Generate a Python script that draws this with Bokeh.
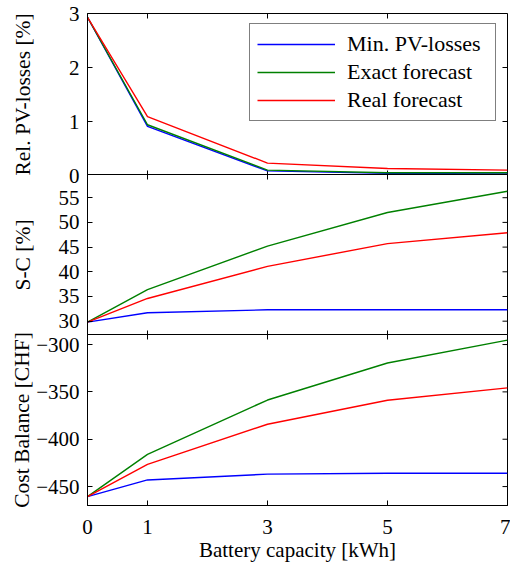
import math
from bokeh.plotting import figure
from bokeh.layouts import column
from bokeh.models import LinearAxis, Range1d, FixedTicker, Legend, LegendItem
from bokeh.embed import file_html
from bokeh.resources import INLINE

capacity = [0, 1, 3, 5, 7]
x_ticks = [0, 1, 3, 5, 7]
series_names = ["Min. PV-losses", "Exact forecast", "Real forecast"]
colors = ["#0000ff", "#008000", "#ff0000"]

pv_min = [2.93, 0.91, 0.085, 0.04, 0.03]
pv_exact = [2.93, 0.94, 0.10, 0.05, 0.05]
pv_real = [2.93, 1.09, 0.23, 0.13, 0.10]

sc_min = [29.8, 31.7, 32.3, 32.3, 32.3]
sc_exact = [29.8, 36.4, 45.2, 52.0, 56.3]
sc_real = [29.8, 34.6, 41.1, 45.7, 47.9]

cost_min = [-460.6, -443.0, -436.9, -436.0, -436.0]
cost_exact = [-460.6, -416.0, -358.6, -319.5, -295.3]
cost_real = [-460.6, -426.6, -384.2, -358.9, -345.8]

pv_ticks = [0, 1, 2, 3]
sc_ticks = [30, 35, 40, 45, 50, 55]
cost_ticks = [-450, -400, -350, -300]

FONT = "Liberation Serif"
TICK_FS = "21px"
YLABEL_FS = "21.5px"
XLABEL_FS = "21px"
LEGEND_FS = "22px"


def style_axis(ax, ticks, label_fs):
    ax.ticker = FixedTicker(ticks=ticks)
    ax.major_tick_in = 5
    ax.major_tick_out = 0
    ax.minor_tick_in = 0
    ax.minor_tick_out = 0
    ax.axis_line_color = "black"
    ax.major_tick_line_color = "black"
    ax.major_label_text_font = FONT
    ax.major_label_text_font_size = TICK_FS
    ax.major_label_text_color = "black"
    ax.major_label_standoff = 8
    ax.axis_label_text_font = FONT
    ax.axis_label_text_font_size = label_fs
    ax.axis_label_text_font_style = "normal"
    ax.axis_label_text_color = "black"


def inner_ticks(p, yr, yticks, bottom_ticks):
    kw = dict(length=5, length_units="screen", line_color="black", line_width=1)
    p.ray(x=x_ticks, y=[yr[1]] * len(x_ticks), angle=-math.pi / 2, **kw)
    p.ray(x=[7] * len(yticks), y=yticks, angle=math.pi, **kw)
    if bottom_ticks:
        p.ray(x=x_ticks, y=[yr[0]] * len(x_ticks), angle=math.pi / 2, **kw)


def make_panel(ys, yr, yticks, ylabel, fh, top, bottom, show_x, lab_standoff, margin=None):
    kwargs = {}
    if margin is not None:
        kwargs["margin"] = margin
    p = figure(frame_width=420, frame_height=fh, x_range=Range1d(0, 7),
               y_range=Range1d(*yr), output_backend="svg", toolbar_location=None,
               x_axis_location=None, y_axis_location=None,
               min_border_left=87, min_border_right=3,
               min_border_top=top, min_border_bottom=bottom, **kwargs)
    p.xgrid.visible = False
    p.ygrid.visible = False
    p.outline_line_color = "black"
    p.background_fill_color = "white"
    p.border_fill_alpha = 0

    left = LinearAxis(axis_label=ylabel)
    style_axis(left, yticks, YLABEL_FS)
    left.axis_label_standoff = lab_standoff
    p.add_layout(left, "left")

    if show_x:
        bot = LinearAxis(axis_label="Battery capacity [kWh]")
        style_axis(bot, x_ticks, XLABEL_FS)
        bot.major_label_standoff = 14
        bot.axis_label_standoff = 1
        p.add_layout(bot, "below")

    inner_ticks(p, yr, yticks, not show_x)

    renderers = []
    for y, c in zip(ys, colors):
        r = p.line(capacity, y, line_color=c, line_width=1.4)
        renderers.append(r)
    return p, renderers


# panel 1: frame 13..175; panel 2: 174..335; panel 3: 334..505 (page pixels)
p1, r1 = make_panel([pv_min, pv_exact, pv_real], (0, 3), pv_ticks,
                    "Rel. PV-losses [%]", 162, 13, 14, False, 31)
p2, r2 = make_panel([sc_min, sc_exact, sc_real], (27.1, 59.7), sc_ticks,
                    "S-C [%]", 161, 0, 0, False, 21, margin=(-15, 0, 0, 0))
p3, r3 = make_panel([cost_min, cost_exact, cost_real], (-470, -289.4), cost_ticks,
                    "Cost Balance [CHF]", 171, 11, 50, True, -1, margin=(-12, 0, 0, 0))

legend = Legend(items=[LegendItem(label=n, renderers=[r]) for n, r in zip(series_names, r1)],
                location=(162, 54))
legend.border_line_color = "black"
legend.border_line_width = 1
legend.background_fill_color = "white"
legend.background_fill_alpha = 1
legend.label_text_font = FONT
legend.label_text_font_size = LEGEND_FS
legend.label_text_color = "black"
legend.glyph_width = 78
legend.glyph_height = 20
legend.label_height = 20
legend.label_width = 141
legend.label_standoff = 12
legend.spacing = 2
legend.padding = 7
legend.margin = 0
p1.add_layout(legend)

layout = column(p1, p2, p3, spacing=0)
open("out.html", "w").write(file_html(layout, INLINE))
